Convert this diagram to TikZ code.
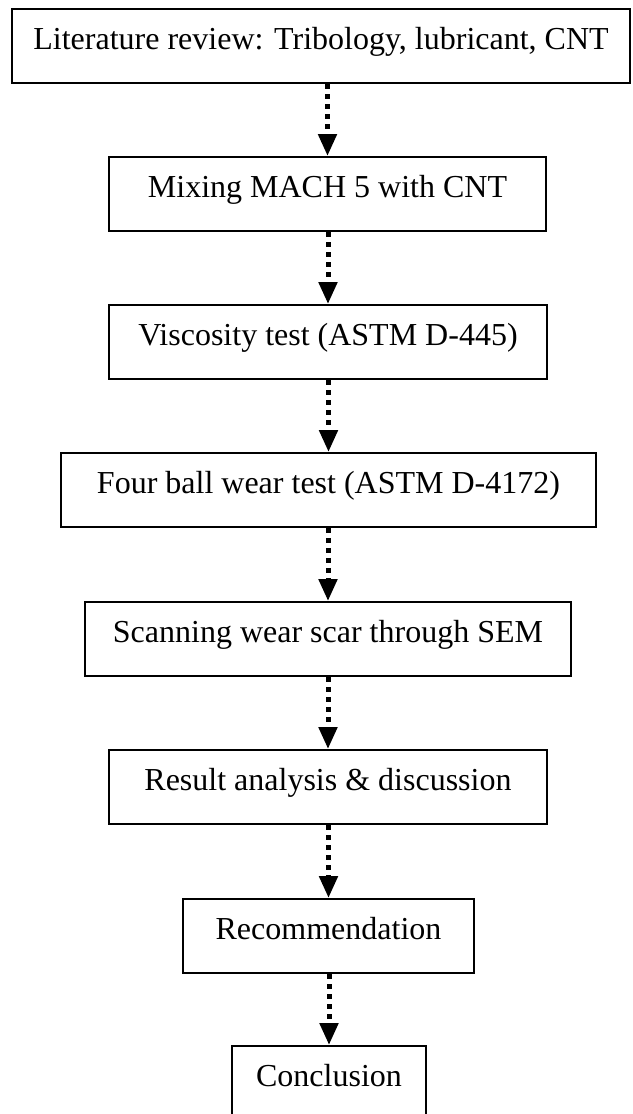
\documentclass[tikz,border=0pt]{standalone}
\usepackage{fontspec}
\setmainfont{Liberation Serif}
\usetikzlibrary{arrows.meta}
\begin{document}
\begin{tikzpicture}[x=1pt,y=-1pt,
  stepbox/.style={draw=black, line width=2pt, rectangle, inner sep=0pt,
    text height=40pt, text depth=34pt, anchor=north,
    font=\fontsize{32}{38}\selectfont},
  flow/.style={line width=5pt, dash pattern=on 5pt off 5pt,
    -{Triangle[length=22pt,width=18pt]}}]
\useasboundingbox (0,0) rectangle (632,1114);
\clip (0,0) rectangle (632,1114);

% process steps, top to bottom
\node[stepbox, minimum width=618pt] (b1) at (321,8)    {Literature review: Tribology, lubricant, CNT};
\node[stepbox, minimum width=437pt] (b2) at (327.5,156) {Mixing MACH 5 with CNT};
\node[stepbox, minimum width=438pt] (b3) at (328,304)  {Viscosity test (ASTM D-445)};
\node[stepbox, minimum width=535pt] (b4) at (328.5,452) {Four ball wear test (ASTM D-4172)};
\node[stepbox, minimum width=486pt] (b5) at (328,601)  {Scanning wear scar through SEM};
\node[stepbox, minimum width=438pt] (b6) at (328,749)  {Result analysis \& discussion};
\node[stepbox, minimum width=291pt] (b7) at (328.5,898) {Recommendation};
\node[stepbox, minimum width=194pt] (b8) at (329,1045) {Conclusion};

% dotted connectors
\draw[flow] (b1.south -| b2.north) -- (b2.north);
\draw[flow] (b2.south -| b3.north) -- (b3.north);
\draw[flow] (b3.south -| b4.north) -- (b4.north);
\draw[flow] (b4.south -| b5.north) -- (b5.north);
\draw[flow] (b5.south -| b6.north) -- (b6.north);
\draw[flow] (b6.south -| b7.north) -- (b7.north);
\draw[flow] (b7.south -| b8.north) -- (b8.north);
\end{tikzpicture}
\end{document}
